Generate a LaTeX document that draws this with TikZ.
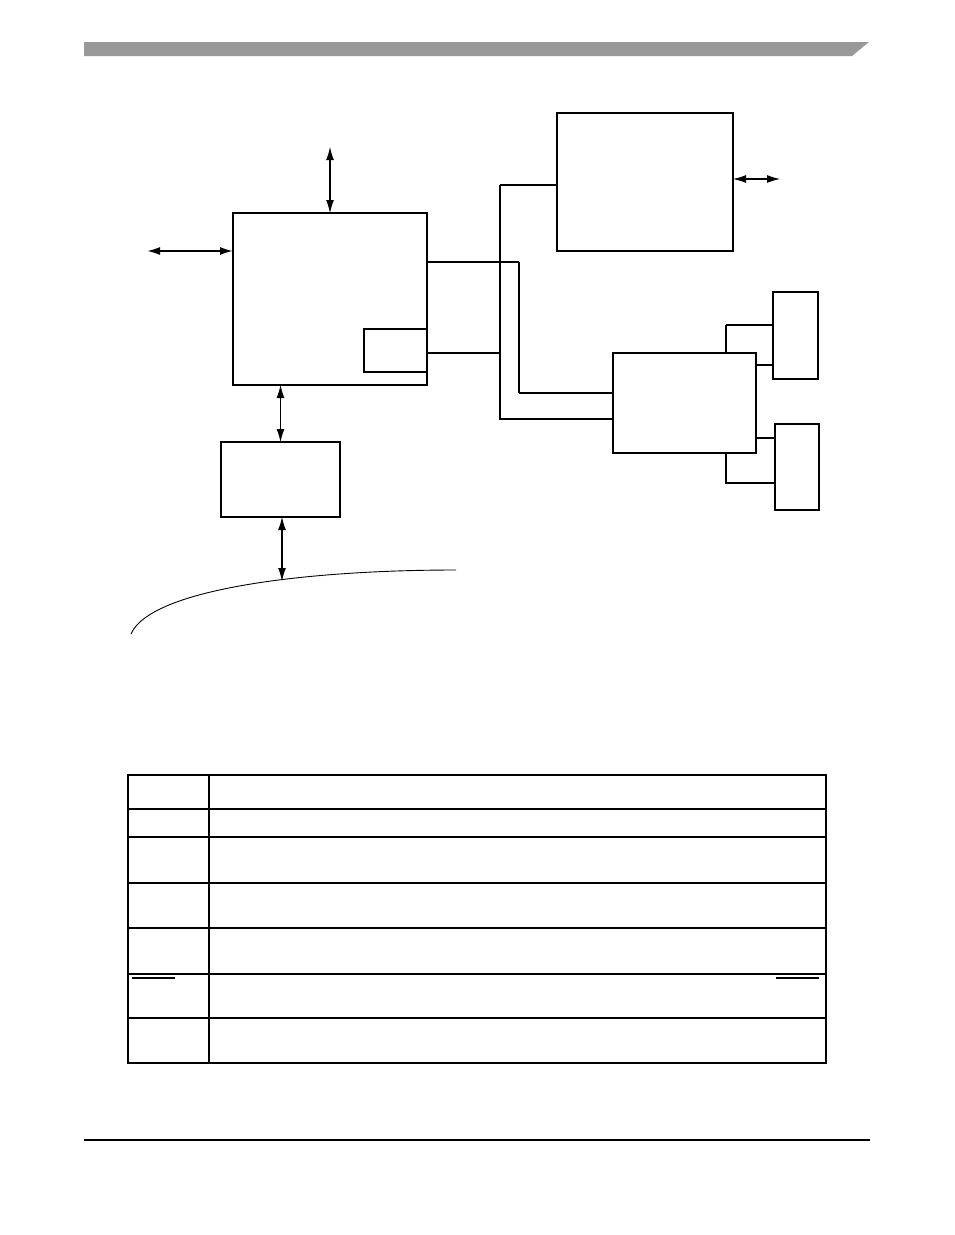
\documentclass[tikz,border=0pt]{standalone}
\usepackage{tikz}
\usetikzlibrary{arrows.meta, calc}

\begin{document}
\begin{tikzpicture}[x=1pt, y=-1pt, line width=1.1pt,
  blk/.style={draw, line width=1.1pt, inner sep=0pt, outer sep=0pt},
  thk/.style={line width=2.2pt},
  bidir/.style={{Latex[length=13pt,width=8pt]}-{Latex[length=13pt,width=8pt]}}]
\useasboundingbox (0,0) rectangle (954,1235);
% page rules
\fill[black!40] (84,42) -- (869,42) -- (852,56) -- (84,56) -- cycle;
\draw (84,1140) -- (870,1140);
% blocks
\node[blk, minimum width=194pt, minimum height=172pt] (cpu) at (330,299) {};
\node[blk, minimum width=63pt, minimum height=43pt] (port) at (395.5,350.5) {};
\node[blk, minimum width=119pt, minimum height=75pt] (mem) at (280.5,479.5) {};
\node[blk, minimum width=176pt, minimum height=138pt] (phy) at (645,182) {};
\node[blk, minimum width=143pt, minimum height=100pt] (ctl) at (684.5,403) {};
\node[blk, minimum width=45pt, minimum height=87pt] (devA) at (795.5,335.5) {};
\node[blk, minimum width=44pt, minimum height=86pt] (devB) at (797,467) {};
\draw[thk] (cpu.north east) -- (cpu.south east);
\draw[thk] (port.north west) -- (port.south west);
\draw[thk] (mem.north west) -- (mem.south west);
\draw[thk] (phy.south west) -- (phy.south east);
\draw[thk] (devA.south west) -- (devA.south east);
\draw[thk] (devB.north west) -- (devB.north east);
% arrows
\coordinate (upT) at (330,147);
\coordinate (leftT) at (147,251);
\coordinate (busP) at (282,581);
\coordinate (phyR) at (780,179);
\draw[bidir] (upT) -- (cpu.north);
\draw[bidir, line width=1.8pt] (leftT) -- (leftT -| cpu.west);
\draw[bidir] (mem.north) -- (mem.north |- cpu.south);
\draw[bidir] (busP |- mem.south) -- (busP);
\draw[bidir] (phyR -| phy.east) -- (phyR);
% bus curve
\draw[line width=0.9pt] (131,634) .. controls (150,590) and (300,570) .. (456,570);
% connectors
\coordinate (jA) at (500,185);
\coordinate (jB) at (500,419);
\coordinate (jC) at (500,353);
\coordinate (kA) at (519,262);
\coordinate (kB) at (519,393);
\draw[thk] (phy.west |- jA) -- (jA);
\draw (jA) -- (jB) -- (jB -| ctl.west);
\draw (kA -| cpu.east) -- (kA);
\draw[thk] (kA) -- (kB);
\draw (kB) -- (kB -| ctl.west);
\draw[thk] (jC -| cpu.east) -- (jC);
\coordinate (mA) at (726,325);
\coordinate (mB) at (726,483);
\draw (mA |- ctl.north) -- (mA);
\draw[thk] (mA) -- (mA -| devA.west);
\draw[thk] (ctl.east |- 0,365) -- (devA.west |- 0,365);
\draw[thk] (ctl.east |- 0,438) -- (devB.west |- 0,438);
\draw (mB |- ctl.south) -- (mB) -- (mB -| devB.west);
% table
\draw (128,775) rectangle (826,1063);
\draw (209,775) -- (209,1063);
\foreach \y in {809,837,883,928,974,1018}
  \draw (128,\y) -- (826,\y);
\draw (132,978) -- (175,978);
\draw (776,978) -- (819,978);
\end{tikzpicture}
\end{document}
